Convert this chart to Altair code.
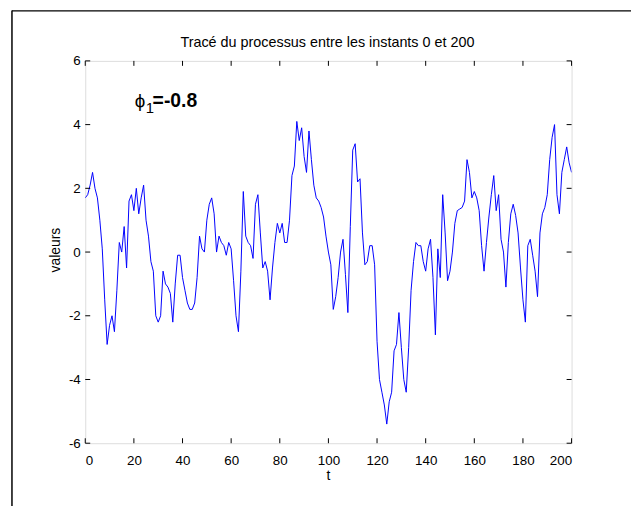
import altair as alt
import pandas as pd

# Process values, t = 0..200
t_values = list(range(201))
y_values = [
    1.7, 1.8, 2.1, 2.5, 2.0, 1.7, 1.0, 0.1, -1.5, -2.9,
    -2.3, -2.0, -2.5, -1.2, 0.3, 0.0, 0.8, -0.5, 1.6, 1.8,
    1.3, 2.0, 1.2, 1.7, 2.1, 1.0, 0.5, -0.3, -0.6, -2.0,
    -2.2, -2.0, -0.6, -1.0, -1.1, -1.3, -2.2, -1.0, -0.1, -0.1,
    -0.8, -1.2, -1.6, -1.8, -1.8, -1.6, -0.8, 0.5, 0.1, 0.0,
    1.0, 1.5, 1.7, 1.2, 0.0, 0.5, 0.3, 0.2, -0.1, 0.3,
    0.1, -0.9, -2.0, -2.5, -0.6, 1.9, 0.5, 0.3, 0.2, -0.2,
    1.5, 1.8, 0.6, -0.5, -0.3, -0.6, -1.5, -0.5, 0.3, 0.9,
    0.6, 0.9, 0.3, 0.3, 1.0, 2.4, 2.7, 4.1, 3.5, 3.9,
    3.0, 2.5, 3.8, 2.9, 2.1, 1.7, 1.6, 1.4, 1.1, 0.5,
    0.0, -0.4, -1.8, -1.4, -0.8, 0.0, 0.4, -0.7, -1.9, 0.8,
    3.2, 3.4, 2.2, 2.3, 0.6, -0.4, -0.3, 0.2, 0.2, -0.4,
    -2.8, -4.0, -4.4, -4.8, -5.4, -4.7, -4.4, -3.1, -2.9, -1.9,
    -3.0, -4.0, -4.4, -3.0, -1.2, -0.3, 0.3, 0.2, 0.2, -0.3,
    -0.6, 0.1, 0.4, -0.8, -2.6, 0.1, -0.8, 1.8, 0.6, -0.9,
    -0.6, 0.0, 0.9, 1.3, 1.35, 1.4, 1.6, 2.9, 2.5, 1.7,
    1.9, 1.7, 1.3, 0.2, -0.6, 0.3, 1.1, 1.8, 2.4, 1.3,
    1.8, 0.4, 0.0, -1.1, 0.3, 1.2, 1.5, 1.15, 0.6, -0.5,
    -1.5, -2.2, 0.2, 0.4, -0.1, -0.6, -1.4, 0.6, 1.2, 1.4,
    1.8, 2.9, 3.6, 4.0, 1.8, 1.2, 2.5, 2.9, 3.3, 2.8,
    2.5,
]

x_ticks = [0, 20, 40, 60, 80, 100, 120, 140, 160, 180, 200]
y_ticks = [-6, -4, -2, 0, 2, 4, 6]

title_text = "Tracé du processus entre les instants 0 et 200"
x_label = "t"
y_label = "valeurs"

W, H = 491, 386
FONT = "Liberation Sans"

df = pd.DataFrame({"t": t_values, "v": y_values})
xt = pd.DataFrame({"xt": x_ticks})
yt = pd.DataFrame({"yt": y_ticks})

xscale = alt.Scale(domain=[0, 200], nice=False, zero=False)
yscale = alt.Scale(domain=[-6, 6], nice=False, zero=False)

line = alt.Chart(df).mark_line(color="#0000ff", strokeWidth=1, clip=True).encode(
    x=alt.X("t:Q", scale=xscale,
            axis=alt.Axis(values=x_ticks, ticks=False, grid=False, domain=False,
                          labelFont=FONT, labelFontSize=13.5, labelColor="black",
                          labelPadding=10, title=None,
                          labelExpr="toString(datum.value)")),
    y=alt.Y("v:Q", scale=yscale,
            axis=alt.Axis(values=y_ticks, ticks=False, grid=False, domain=False,
                          labelFont=FONT, labelFontSize=13.5, labelColor="black",
                          labelPadding=5, title=None,
                          labelExpr="toString(datum.value)")),
)

tick_len = 5
xt_bottom = alt.Chart(xt).mark_rule(color="black", strokeWidth=1).encode(
    x=alt.X("xt:Q", scale=xscale), y=alt.value(H), y2=alt.value(H - tick_len))
xt_top = alt.Chart(xt).mark_rule(color="black", strokeWidth=1).encode(
    x=alt.X("xt:Q", scale=xscale), y=alt.value(0), y2=alt.value(tick_len))
yt_left = alt.Chart(yt).mark_rule(color="black", strokeWidth=1).encode(
    y=alt.Y("yt:Q", scale=yscale), x=alt.value(0), x2=alt.value(tick_len))
yt_right = alt.Chart(yt).mark_rule(color="black", strokeWidth=1).encode(
    y=alt.Y("yt:Q", scale=yscale), x=alt.value(W), x2=alt.value(W - tick_len))

# outer figure frame (top and left edges)
frame_top = alt.Chart(pd.DataFrame({"a": [0]})).mark_rule(color="black", strokeWidth=1.5).encode(
    x=alt.value(-74), x2=alt.value(W + 70), y=alt.value(-50.5))
frame_left = alt.Chart(pd.DataFrame({"a": [0]})).mark_rule(color="black", strokeWidth=1.5).encode(
    x=alt.value(-74), y=alt.value(-51), y2=alt.value(H + 70))

title = alt.Chart(pd.DataFrame({"s": [title_text]})).mark_text(
    font=FONT, fontSize=14.5, color="black", baseline="middle", align="center"
).encode(text="s:N", x=alt.value(W / 2 - 1), y=alt.value(-18))

xlab = alt.Chart(pd.DataFrame({"s": [x_label]})).mark_text(
    font=FONT, fontSize=14, color="black", baseline="middle", align="center"
).encode(text="s:N", x=alt.value(W / 2), y=alt.value(H + 33))

ylab = alt.Chart(pd.DataFrame({"s": [y_label]})).mark_text(
    font=FONT, fontSize=14, color="black", baseline="middle", align="center", angle=270
).encode(text="s:N", x=alt.value(-29), y=alt.value(H / 2 - 2))

phi = alt.Chart(pd.DataFrame({"s": ["ϕ"]})).mark_text(
    font=FONT, fontSize=19, color="black", baseline="middle", align="left"
).encode(text="s:N", x=alt.value(50), y=alt.value(41))
sub = alt.Chart(pd.DataFrame({"s": ["1"]})).mark_text(
    font=FONT, fontSize=15, color="black", baseline="middle", align="left"
).encode(text="s:N", x=alt.value(61), y=alt.value(48))
val = alt.Chart(pd.DataFrame({"s": ["=-0.8"]})).mark_text(
    font=FONT, fontSize=19.5, fontWeight="bold", color="black", baseline="middle", align="left"
).encode(text="s:N", x=alt.value(68), y=alt.value(41))

chart = alt.layer(
    line, xt_bottom, xt_top, yt_left, yt_right, frame_top, frame_left,
    title, xlab, ylab, phi, sub, val
).properties(
    width=W, height=H,
    autosize=alt.AutoSizeParams(type="none"),
    padding={"left": 78, "top": 51, "right": 60, "bottom": 61},
).configure_view(stroke="black", strokeWidth=1).configure(background="white")

chart.save("out.html", embed_options={"renderer": "svg", "actions": False})
